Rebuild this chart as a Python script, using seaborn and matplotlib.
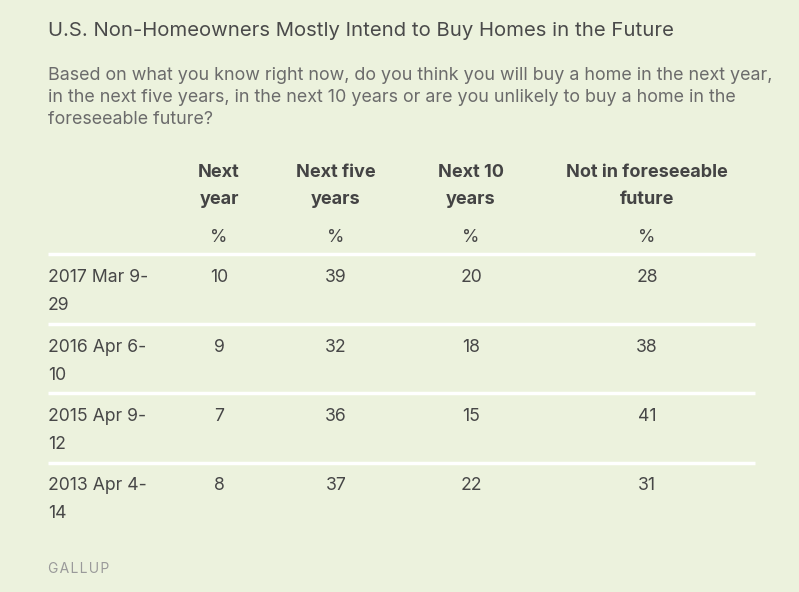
import matplotlib
matplotlib.use("Agg")
import matplotlib.pyplot as plt
import seaborn as sns
import pandas as pd

title = "U.S. Non-Homeowners Mostly Intend to Buy Homes in the Future"
question = ["Based on what you know right now, do you think you will buy a home in the next year,",
            "in the next five years, in the next 10 years or are you unlikely to buy a home in the",
            "foreseeable future?"]
columns = ["Next\nyear", "Next five\nyears", "Next 10\nyears", "Not in foreseeable\nfuture"]
dates = ["2017 Mar 9-\n29", "2016 Apr 6-\n10", "2015 Apr 9-\n12", "2013 Apr 4-\n14"]
next_year = [10, 9, 7, 8]
next_five = [39, 32, 36, 37]
next_ten = [20, 18, 15, 22]
not_foreseeable = [28, 38, 41, 31]
source = "GALLUP"

df = pd.DataFrame({"date": dates, columns[0]: next_year, columns[1]: next_five,
                   columns[2]: next_ten, columns[3]: not_foreseeable})

# --- style ---
BG = "#ECF2DD"
sns.set_theme(style="white", rc={"figure.facecolor": BG, "axes.facecolor": BG})
plt.rcParams["font.family"] = ["Inter", "DejaVu Sans"]

fig = plt.figure(figsize=(7.99, 5.92), dpi=100)
ax = fig.add_axes([0, 0, 1, 1])
ax.set_xlim(0, 799)
ax.set_ylim(592, 0)
ax.axis("off")

left = 48
col_x = [219, 336, 471, 647]
row0 = 282      # baseline of first data row
row_step = 69.5
line2 = 28      # second text line in a cell
body = 12.7
dark = "#474747"

ax.text(left, 36.5, title, fontsize=14.6, color="#4a4a4a", va="baseline")
for i, line in enumerate(question):
    ax.text(left, 80 + i * 22, line, fontsize=12.9, color="#6b6b6b", va="baseline")

# header
for x, col in zip(col_x, columns):
    parts = col.split("\n")
    ax.text(x, 177, parts[0], fontsize=13, fontweight="bold", color="#444444",
            ha="center", va="baseline")
    ax.text(x, 204, parts[1], fontsize=13, fontweight="bold", color="#444444",
            ha="center", va="baseline")
    ax.text(x, 242, "%", fontsize=body, color=dark, ha="center", va="baseline")

# separators
sep_y = [254 + i * row_step for i in range(len(df))]
ax.hlines(sep_y, left, 755, colors="white", linewidth=2.5)

# rows
for r, row in df.iterrows():
    yb = row0 + r * row_step
    d1, d2 = row["date"].split("\n")
    ax.text(left, yb, d1, fontsize=body, color=dark, va="baseline")
    ax.text(left, yb + line2, d2, fontsize=body, color=dark, va="baseline")
    for x, col in zip(col_x, columns):
        ax.text(x, yb, str(row[col]), fontsize=body, color=dark,
                ha="center", va="baseline")

ax.text(left, 573, "\u200a".join(source), fontsize=10, color="#9a9a9a", va="baseline",
        family=["Inter", "DejaVu Sans"])

fig.savefig("out.png", dpi=100, facecolor=BG)
